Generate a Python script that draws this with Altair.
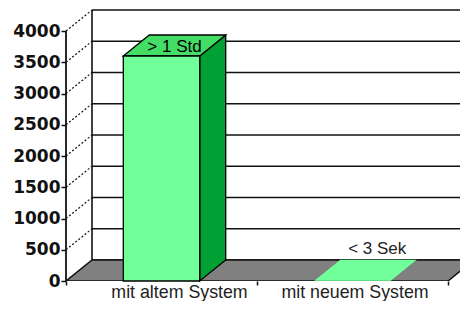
import altair as alt
import pandas as pd

# ---- data ----
categories = ["mit altem System", "mit neuem System"]
values = [3600, 3]
bar_labels = ["> 1 Std", "< 3 Sek"]
y_ticks = [0, 500, 1000, 1500, 2000, 2500, 3000, 3500, 4000]

# ---- geometry / style ----
PLOT_W, PLOT_H = 394, 271
X_PX = 191.0              # pixels per category slot
Y_PX = 250.0 / 4000.0     # pixels per value unit
DX = 26.0 / X_PX          # depth offset (x), in category units
DY = 21.0 / Y_PX          # depth offset (y), in value units
XMAX = PLOT_W / X_PX
YMAX = PLOT_H / Y_PX
HALF = 0.2                # half bar width in category units
NCAT = len(categories)

FRONT = "#70ff99"
TOP = "#44dd66"
SIDE = "#00a035"
FLOOR = "#808080"
LINE = "#111111"

xs = alt.Scale(domain=[0, XMAX], nice=False, zero=False)
ys = alt.Scale(domain=[0, YMAX], nice=False, zero=False)

label_expr = " : ".join(
    [f"datum.value == {i} ? '{c}'" for i, c in enumerate(categories)]
) + " : ''"

x_axis = alt.Axis(
    values=list(range(NCAT + 1)), labelExpr=label_expr,
    labelOffset={"condition": {"test": "datum.value == 0", "value": 113}, "value": 97.5},
    tickSize=4, tickColor=LINE, tickWidth=1.5, domain=False, grid=False,
    labelFont="Liberation Sans", labelFontSize=17.8, labelColor="#222222",
    labelBaseline="alphabetic", labelPadding=12.5, labelFlush=False,
    labelOverlap=False, labelAlign="center", title=None,
)
y_axis = alt.Axis(
    values=y_ticks, format="d", tickSize=5, tickColor=LINE, tickWidth=1.5,
    domain=False, grid=False, labelFont="DejaVu Sans", labelFontWeight="bold",
    labelFontSize=17, labelColor="#111111", labelPadding=1, title=None,
    labelFlush=False, labelOverlap=False,
)


def X(field):
    return alt.X(field, scale=xs, axis=x_axis)


def Y(field):
    return alt.Y(field, scale=ys, axis=y_axis)


# ---- derived tables ----
grid_df = pd.DataFrame({"v": y_ticks})
grid_df["yb"] = grid_df["v"] + DY
grid_df["x0"] = 0.0
grid_df["xb"] = DX
grid_df["xe"] = XMAX

wall_df = pd.DataFrame({"x": [DX], "y0": [DY], "y1": [max(y_ticks) + DY]})
front_df = pd.DataFrame({"x": [0.0], "y0": [0.0], "y1": [float(max(y_ticks))]})

# floor parallelogram as a vertical area (4 points sorted by x)
floor_df = pd.DataFrame({
    "x": [0.0, DX, float(NCAT), NCAT + DX],
    "y": [0.0, DY, DY, DY],
    "y2": [0.0, 0.0, 0.0, DY],
})

centers = [i + 0.5 for i in range(NCAT)]
bars = pd.DataFrame({"name": categories, "v": values, "label": bar_labels, "c": centers})
bars["xl"] = bars["c"] - HALF
bars["xr"] = bars["c"] + HALF

side_rows, top_rows = [], []
for name, v, c in zip(categories, values, centers):
    xl, xr = c - HALF, c + HALF
    side_rows.append({"name": name, "v": v, "x": xr, "y": v, "y2": 0.0})
    side_rows.append({"name": name, "v": v, "x": xr + DX, "y": v + DY, "y2": DY})
    # top face parallelogram as a vertical area
    top_rows.append({"name": name, "v": v, "x": xl, "y": v, "y2": v})
    top_rows.append({"name": name, "v": v, "x": xl + DX, "y": v + DY, "y2": v})
    top_rows.append({"name": name, "v": v, "x": xr, "y": v + DY, "y2": v})
    top_rows.append({"name": name, "v": v, "x": xr + DX, "y": v + DY, "y2": v + DY})
side_df = pd.DataFrame(side_rows)
top_df = pd.DataFrame(top_rows)

back_grid = alt.Chart(grid_df).mark_rule(color=LINE, strokeWidth=1.6).encode(
    x=X("xb:Q"), x2="xe:Q", y=Y("yb:Q"),
)

back_wall = alt.Chart(wall_df).mark_rule(color=LINE, strokeWidth=1.6).encode(
    x=X("x:Q"), y=Y("y0:Q"), y2="y1:Q",
)

diagonals = alt.Chart(grid_df).transform_filter("datum.v > 0").mark_rule(
    color=LINE, strokeWidth=1.2, strokeDash=[2, 2]
).encode(
    x=X("x0:Q"), x2="xb:Q", y=Y("v:Q"), y2="yb:Q",
)

front_axis = alt.Chart(front_df).mark_rule(color=LINE, strokeWidth=1.8).encode(
    x=X("x:Q"), y=Y("y0:Q"), y2="y1:Q",
)

floor = alt.Chart(floor_df).mark_area(
    fill=FLOOR, stroke=LINE, strokeWidth=1.5, clip=True
).encode(
    x=X("x:Q"), y=Y("y:Q"), y2="y2:Q",
)

edge = alt.condition("datum.v > 100", alt.value("#000000"), alt.value("transparent"))

side = alt.Chart(side_df).mark_area(fill=SIDE, strokeWidth=1.3).encode(
    x=X("x:Q"), y=Y("y:Q"), y2="y2:Q", detail="name:N", stroke=edge,
)

top = alt.Chart(top_df).mark_area(strokeWidth=1.3).encode(
    x=X("x:Q"), y=Y("y:Q"), y2="y2:Q", detail="name:N",
    fill=alt.condition("datum.v > 100", alt.value(TOP), alt.value(FRONT)),
    stroke=edge,
)

front = alt.Chart(bars).mark_rect(fill=FRONT, strokeWidth=1.3).encode(
    x=X("xl:Q"), x2="xr:Q", y=Y("v:Q"), y2=alt.datum(0), stroke=edge,
)

text_in = alt.Chart(bars).transform_filter("datum.v > 100").transform_calculate(
    tx=f"datum.c + {DX / 2}", ty=f"datum.v + {DY / 2}"
).mark_text(
    font="Liberation Sans", fontSize=17, color="#000000", baseline="middle", dy=1.5
).encode(
    x=X("tx:Q"), y=Y("ty:Q"), text="label:N",
)

text_out = alt.Chart(bars).transform_filter("datum.v <= 100").transform_calculate(
    tx=f"datum.c + {DX * 0.95}", ty=f"datum.v + {DY}"
).mark_text(
    font="Liberation Sans", fontSize=17, color="#222222", baseline="middle", dy=-11
).encode(
    x=X("tx:Q"), y=Y("ty:Q"), text="label:N",
)

chart = alt.layer(
    back_grid, back_wall, diagonals, floor, front_axis, side, top, front, text_in, text_out
).properties(
    width=PLOT_W, height=PLOT_H,
    padding={"left": 58, "top": 2, "right": 0, "bottom": 20},
    autosize=alt.AutoSizeParams(type="none"),
    background="white",
).configure_view(strokeWidth=0)

chart.save("out.html", embed_options={"renderer": "svg", "actions": False})
